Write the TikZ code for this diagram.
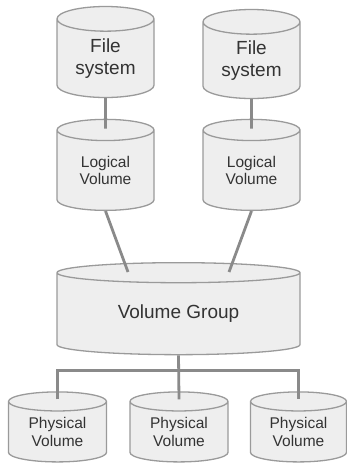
\documentclass[tikz,border=0pt]{standalone}
\usepackage{fontspec}
\setmainfont{Liberation Sans}
\usetikzlibrary{shapes.geometric,calc}

\definecolor{diskfill}{HTML}{EEEEEE}
\definecolor{diskline}{HTML}{9A9A9A}
\definecolor{linkline}{HTML}{8A8A8A}
\definecolor{labeltext}{HTML}{333333}

\tikzset{
  disk/.style={cylinder, shape border rotate=90, aspect=0.41, draw=diskline,
    line width=1.3pt, fill=diskfill, inner sep=0pt, align=center,
    text=labeltext},
  link/.style={draw=linkline, line width=2.8pt}
}

\begin{document}
\begin{tikzpicture}[x=1pt,y=-1pt]
  \useasboundingbox (0,0) rectangle (346,465);
  % file systems and logical volumes
  \node[disk, minimum width=97pt, minimum height=91pt, font=\fontsize{19}{22}\selectfont] (fs1) at (105.5,58.5) {File\\system};
  \node[disk, minimum width=97pt, minimum height=89pt, font=\fontsize{19}{22}\selectfont] (fs2) at (251.5,60.5) {File\\system};
  \node[disk, minimum width=97pt, minimum height=91pt, font=\fontsize{15.5}{17}\selectfont] (lv1) at (105.5,170.5) {Logical\\Volume};
  \node[disk, minimum width=97pt, minimum height=91pt, font=\fontsize{15.5}{17}\selectfont] (lv2) at (251.5,170.5) {Logical\\Volume};
  % volume group
  \node[disk, aspect=0.165, minimum width=243pt, minimum height=92pt, font=\fontsize{19}{22}\selectfont] (vg) at (178.5,314) {Volume Group};
  % physical volumes
  \node[disk, aspect=0.33, minimum width=98pt, minimum height=70pt, font=\fontsize{15.5}{18}\selectfont] (pv1) at (57.5,432) {Physical\\Volume};
  \node[disk, aspect=0.33, minimum width=98pt, minimum height=70pt, font=\fontsize{15.5}{18}\selectfont] (pv2) at (179,432) {Physical\\Volume};
  \node[disk, aspect=0.33, minimum width=96pt, minimum height=70pt, font=\fontsize{15.5}{18}\selectfont] (pv3) at (298.5,432) {Physical\\Volume};

  \draw[link] (fs1.south) -- ($(lv1.north)+(0,10)$);
  \draw[link] (fs2.south) -- ($(lv2.north)+(0,10)$);
  \draw[link] (lv1.south) -- ($(vg.north)+(-50.5,10)$);
  \draw[link] (lv2.south) -- ($(vg.north)+(50.5,10)$);
  \coordinate (bus) at ($(vg.south)+(0,15)$);
  \draw[link] ($(pv1.north)+(0,8)$) |- (bus) -| ($(pv3.north)+(0,8)$);
  \draw[link] (vg.south) -- ($(pv2.north)+(0,8)$);
\end{tikzpicture}
\end{document}
